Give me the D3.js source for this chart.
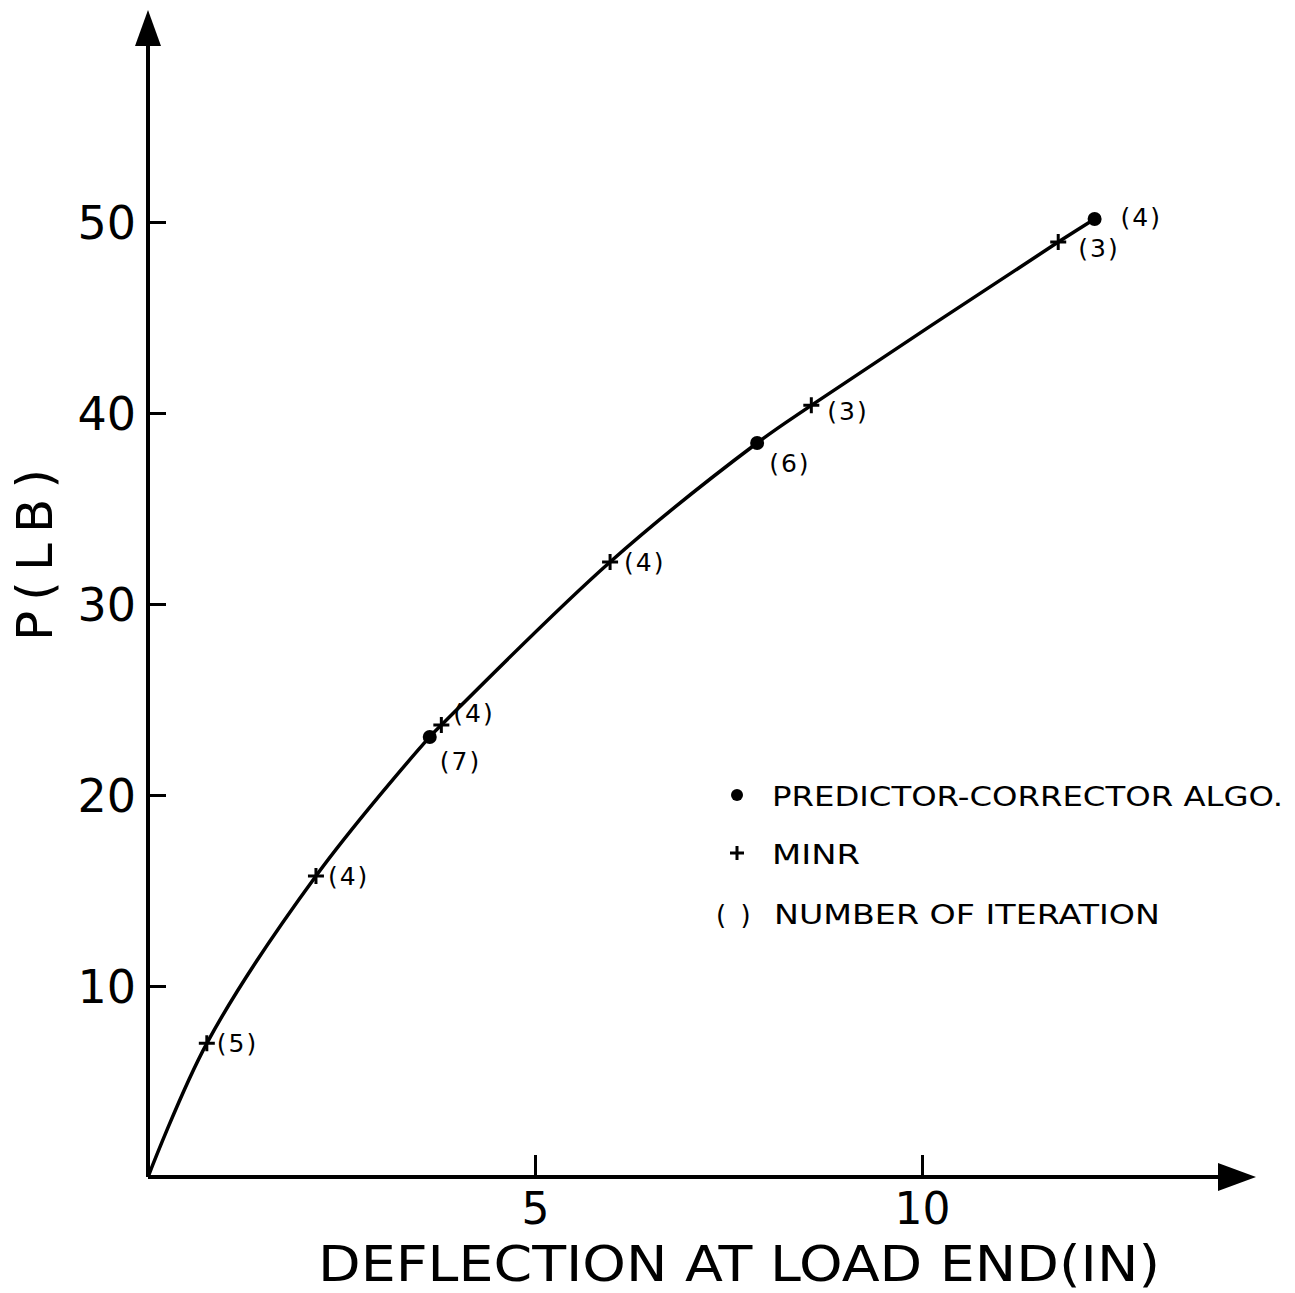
<!DOCTYPE html>
<html>
<head>
<meta charset="utf-8">
<script src="https://cdn.jsdelivr.net/npm/d3@7"></script>
<style>
  body { margin: 0; background: #fff; }
  text { font-family: "DejaVu Sans", sans-serif; fill: #000; }
</style>
</head>
<body>
<div id="chart"></div>
<script>
// minr points (+)
const minrX = [0.76, 2.17, 3.79, 5.97, 8.57, 11.76];
const minrY = [7.0, 15.76, 23.66, 32.2, 40.4, 48.95];
const minrIter = ["(5)", "(4)", "(4)", "(4)", "(3)", "(3)"];

// predictor-corrector points (dots)
const pcX = [3.64, 7.87, 12.23];
const pcY = [23.04, 38.43, 50.16];
const pcIter = ["(7)", "(6)", "(4)"];

const xTicks = [5, 10];
const yTicks = [10, 20, 30, 40, 50];
const legendLabels = ["PREDICTOR-CORRECTOR ALGO.", "MINR", "NUMBER OF ITERATION"];

const width = 1295, height = 1293;
const x0 = 148, y0 = 1177;

const x = d3.scaleLinear().domain([0, 10]).range([x0, 922]);
const y = d3.scaleLinear().domain([0, 50]).range([y0, 222]);

const svg = d3.select("#chart").append("svg")
  .attr("width", width).attr("height", height);

// axes lines + arrows
svg.append("line").attr("x1", x0).attr("y1", y0).attr("x2", x0).attr("y2", 40)
  .attr("stroke", "#000").attr("stroke-width", 4);
svg.append("path").attr("d", `M${x0},10 L${x0 - 13},46 L${x0 + 13},46 Z`).attr("fill", "#000");
svg.append("line").attr("x1", x0).attr("y1", y0).attr("x2", 1225).attr("y2", y0)
  .attr("stroke", "#000").attr("stroke-width", 4);
svg.append("path").attr("d", `M1256,${y0} L1218,${y0 - 14} L1218,${y0 + 14} Z`).attr("fill", "#000");

// ticks
const xAxis = d3.axisBottom(x).tickValues(xTicks).tickSize(0).tickPadding(0).tickFormat(d => d);
const gx = svg.append("g").attr("transform", `translate(0,${y0})`).call(xAxis);
gx.select(".domain").remove();
gx.selectAll(".tick line").attr("y2", -22).attr("stroke", "#000").attr("stroke-width", 3);
gx.selectAll(".tick text").attr("y", 47).attr("dy", null)
  .style("font-size", "44px").attr("fill", "#000");

const yAxis = d3.axisLeft(y).tickValues(yTicks).tickSize(0).tickPadding(0).tickFormat(d => d);
const gy = svg.append("g").attr("transform", `translate(${x0},0)`).call(yAxis);
gy.select(".domain").remove();
gy.selectAll(".tick line").attr("x2", 18).attr("stroke", "#000").attr("stroke-width", 3);
gy.selectAll(".tick text").attr("x", -12).attr("dy", "0.36em")
  .style("font-size", "46px").attr("fill", "#000");

// axis titles
svg.append("text")
  .attr("transform", "translate(52,555) rotate(-90)")
  .attr("text-anchor", "middle")
  .style("font-size", "50px")
  .attr("textLength", 172).attr("lengthAdjust", "spacing")
  .text("P(LB)");

svg.append("text")
  .attr("x", 318).attr("y", 1281)
  .style("font-size", "50px")
  .attr("textLength", 842).attr("lengthAdjust", "spacingAndGlyphs")
  .text("DEFLECTION AT LOAD END(IN)");

// curve through all points
const pts = [[0, 0]]
  .concat(minrX.map((d, i) => [d, minrY[i]]))
  .concat(pcX.map((d, i) => [d, pcY[i]]))
  .sort((a, b) => a[0] - b[0]);

const line = d3.line().x(d => x(d[0])).y(d => y(d[1])).curve(d3.curveCatmullRom.alpha(0.5));
svg.append("path").datum(pts)
  .attr("d", line).attr("fill", "none").attr("stroke", "#000").attr("stroke-width", 3.5);

function plus(g, cx, cy, s) {
  g.append("path")
    .attr("d", `M${cx - s},${cy} L${cx + s},${cy} M${cx},${cy - s} L${cx},${cy + s}`)
    .attr("stroke", "#000").attr("stroke-width", 3);
}

minrX.forEach((d, i) => plus(svg, x(d), y(minrY[i]), 8));
pcX.forEach((d, i) => {
  svg.append("circle").attr("cx", x(d)).attr("cy", y(pcY[i])).attr("r", 7).attr("fill", "#000");
});

// iteration labels
const minrOff = [[10, 9], [12, 9], [12, -3], [14, 9], [16, 15], [20, 15]];
const pcOff = [[10, 33], [12, 29], [26, 7]];
minrIter.forEach((t, i) => {
  svg.append("text").attr("x", x(minrX[i]) + minrOff[i][0]).attr("y", y(minrY[i]) + minrOff[i][1])
    .style("font-size", "25px").attr("letter-spacing", 2).text(t);
});
pcIter.forEach((t, i) => {
  svg.append("text").attr("x", x(pcX[i]) + pcOff[i][0]).attr("y", y(pcY[i]) + pcOff[i][1])
    .style("font-size", "25px").attr("letter-spacing", 2).text(t);
});

// legend
const lg = svg.append("g");
lg.append("circle").attr("cx", 737).attr("cy", 795).attr("r", 6).attr("fill", "#000");
plus(lg, 737, 853, 7);
lg.append("text").attr("x", 716).attr("y", 924).style("font-size", "26px").attr("letter-spacing", 3).text("( )");
const legendY = [806, 864, 924];
const legendX = [772, 772, 774];
const legendLen = [511, 88, 386];
legendLabels.forEach((t, i) => {
  lg.append("text").attr("x", legendX[i]).attr("y", legendY[i])
    .style("font-size", "26px")
    .attr("textLength", legendLen[i]).attr("lengthAdjust", "spacingAndGlyphs")
    .text(t);
});
</script>
</body>
</html>
